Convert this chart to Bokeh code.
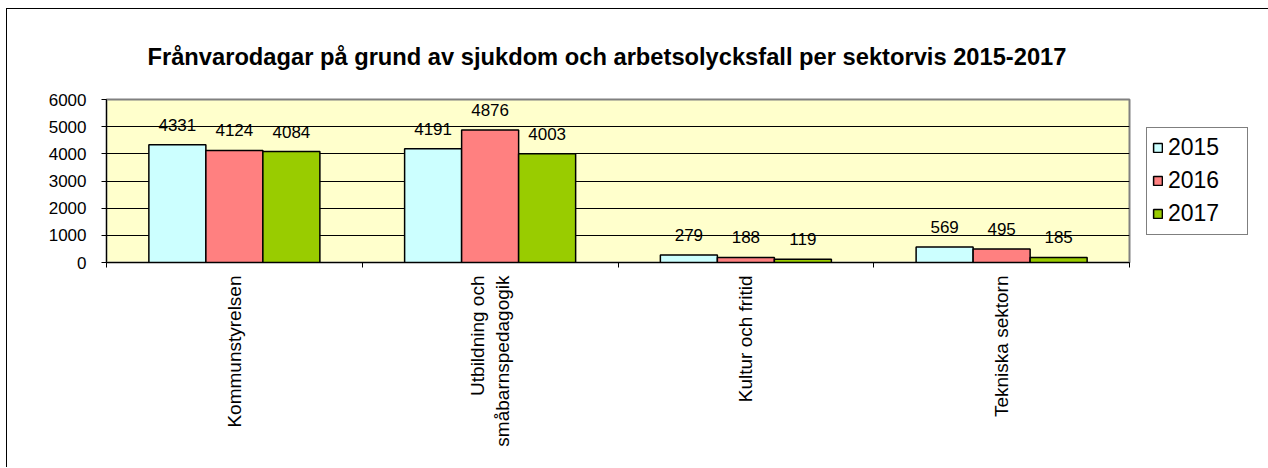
import math
from bokeh.plotting import figure
from bokeh.models import (ColumnDataSource, Range1d, FixedTicker, LabelSet, Legend,
                          LegendItem, Title)
from bokeh.core.properties import value
from bokeh.transform import dodge
from bokeh.embed import file_html
from bokeh.resources import INLINE

categories = ["Kommunstyrelsen", "Utbildning och\nsmåbarnspedagogik", "Kultur och fritid", "Tekniska sektorn"]
years = ["2015", "2016", "2017"]
v2015 = [4331, 4191, 279, 569]
v2016 = [4124, 4876, 188, 495]
v2017 = [4084, 4003, 119, 185]
colors = ["#CCFFFF", "#FF8080", "#99CC00"]
y_ticks = [0, 1000, 2000, 3000, 4000, 5000, 6000]

FONT = "Liberation Sans"
centers = [i + 0.5 for i in range(len(categories))]
src = ColumnDataSource(dict(x=centers, v2015=v2015, v2016=v2016, v2017=v2017,
                            t2015=[str(v) for v in v2015],
                            t2016=[str(v) for v in v2016],
                            t2017=[str(v) for v in v2017]))

p = figure(frame_width=1023, frame_height=163, output_backend="svg", toolbar_location=None,
           x_range=Range1d(0, len(categories)), y_range=Range1d(0, 6000),
           min_border_left=99, min_border_right=136, min_border_top=90, min_border_bottom=205)
p.styles = {"border-left": "1px solid black", "border-top": "1px solid black",
            "border-right": "1px solid #C8C8C8", "margin-left": "6px", "margin-top": "8px"}
p.background_fill_color = "#FFFFCC"
p.border_fill_color = "white"
p.outline_line_color = "#808080"
p.outline_line_width = 2

t = Title(text="Frånvarodagar på grund av sjukdom och arbetsolycksfall per sektorvis 2015-2017",
          text_font=FONT, text_font_size="23.7px", text_font_style="bold", align="left",
          offset=41, standoff=60, text_color="black")
p.add_layout(t, "above")

w = 0.2229
offs = [-w, 0, w]
renderers = []
for yr, off, col in zip(years, offs, colors):
    r = p.vbar(x=dodge("x", off, range=p.x_range), top="v" + yr, width=w, source=src,
               fill_color=col, line_color="black", line_width=1.5)
    renderers.append(r)
    lbl = LabelSet(x=dodge("x", off, range=p.x_range), y="v" + yr, text="t" + yr, source=src,
                   text_align="center", text_baseline="middle", y_offset=20,
                   text_font=value(FONT), text_font_size="17px", text_color="black")
    p.add_layout(lbl)

# y axis
p.yaxis.ticker = FixedTicker(ticks=y_ticks)
p.yaxis.axis_line_color = "black"
p.yaxis.major_tick_line_color = "black"
p.yaxis.major_tick_out = 5
p.yaxis.major_tick_in = 0
p.yaxis.minor_tick_line_color = None
p.yaxis.major_label_standoff = 15
p.yaxis.major_label_text_font = FONT
p.yaxis.major_label_text_font_size = "17px"
p.yaxis.major_label_text_color = "black"

# x axis
p.xaxis.ticker = FixedTicker(ticks=centers, minor_ticks=list(range(len(categories) + 1)))
p.xaxis.major_label_overrides = {c: name for c, name in zip(centers, categories)}
p.xaxis.axis_line_color = "black"
p.xaxis.major_tick_line_color = None
p.xaxis.major_tick_out = 0
p.xaxis.major_tick_in = 0
p.xaxis.minor_tick_line_color = "black"
p.xaxis.minor_tick_out = 5
p.xaxis.minor_tick_in = 0
p.xaxis.major_label_orientation = math.pi / 2
p.xaxis.major_label_standoff = 8
p.xaxis.major_label_text_font = FONT
p.xaxis.major_label_text_font_size = "19px"
p.xaxis.major_label_text_color = "black"
p.xaxis.major_label_text_align = "center"

p.xgrid.grid_line_color = None
p.ygrid.ticker = FixedTicker(ticks=y_ticks)
p.ygrid.grid_line_color = "black"
p.ygrid.grid_line_width = 1

legend = Legend(items=[LegendItem(label=yr, renderers=[r]) for yr, r in zip(years, renderers)],
                location="center_left", margin=17, padding=5, spacing=3,
                label_height=30, glyph_height=11, glyph_width=11, label_width=74,
                label_standoff=5, label_text_font=FONT, label_text_font_size="23px",
                label_text_color="black", border_line_color="black", border_line_width=1,
                background_fill_color="white", background_fill_alpha=1)
p.add_layout(legend, "right")

open("out.html", "w").write(file_html(p, INLINE))
